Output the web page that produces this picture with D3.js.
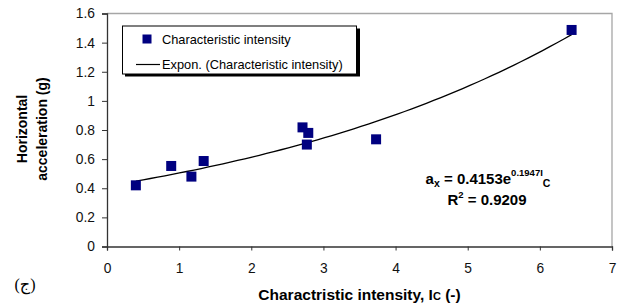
<!DOCTYPE html>
<html>
<head>
<meta charset="utf-8">
<script src="https://cdn.jsdelivr.net/npm/d3@7"></script>
<style>
  body { margin: 0; background: #fff; }
  svg { display: block; font-family: "Liberation Sans", Arial, sans-serif; }
</style>
</head>
<body>
<script>
// measured points
let intensity = [0.40, 0.89, 1.17, 1.34, 2.71, 2.79, 2.77, 3.73, 6.44]
let acceleration = [0.42, 0.553, 0.48, 0.587, 0.818, 0.78, 0.70, 0.736, 1.487]

// exponential trendline from the chart's equation
let fitA = 0.4153
let fitB = 0.1947

let xTicks = [0, 1, 2, 3, 4, 5, 6, 7]
let yTicks = [0, 0.2, 0.4, 0.6, 0.8, 1, 1.2, 1.4, 1.6]

let width = 626
let height = 308
let plotLeft = 107
let plotRight = 612
let plotTop = 13.5
let plotBottom = 246.5

let svg = d3.select('body').append('svg')
    .attr('width', width)
    .attr('height', height)

let xScale = d3.scaleLinear().domain([0, 7]).range([plotLeft, plotRight])
let yScale = d3.scaleLinear().domain([0, 1.6]).range([plotBottom, plotTop])

// plot area frame (top/right grey)
svg.append('path')
    .attr('d', `M${plotLeft},${plotTop}H${plotRight}V${plotBottom}`)
    .attr('fill', 'none')
    .attr('stroke', '#a6a6a6')
    .attr('stroke-width', 1.3)

let xAxis = d3.axisBottom(xScale)
    .tickValues(xTicks)
    .tickSize(4)
    .tickPadding(13)
    .tickFormat(d3.format('d'))

let yAxis = d3.axisLeft(yScale)
    .tickValues(yTicks)
    .tickSize(5)
    .tickPadding(7)
    .tickFormat(d => String(+d.toFixed(1)))

let gx = svg.append('g')
    .attr('transform', `translate(0, ${plotBottom})`)
    .call(xAxis)
let gy = svg.append('g')
    .attr('transform', `translate(${plotLeft}, 0)`)
    .call(yAxis)

for (let g of [gx, gy]) {
    g.select('.domain').attr('stroke', '#333').attr('stroke-width', 1.3)
    g.selectAll('.tick line').attr('stroke', '#333')
    g.selectAll('.tick text')
        .attr('fill', '#111')
        .style('font-size', '13.8px')
        .style('font-family', '"Liberation Sans", Arial, sans-serif')
}

// trendline
let line = d3.line()
    .x(d => xScale(d))
    .y(d => yScale(fitA * Math.exp(fitB * d)))

let xMin = d3.min(intensity)
let xMax = d3.max(intensity)
let steps = d3.range(0, 61).map(i => xMin + (xMax - xMin) * i / 60)

svg.append('path')
    .datum(steps)
    .attr('d', line)
    .attr('fill', 'none')
    .attr('stroke', '#000')
    .attr('stroke-width', 1.3)

// points
let size = 10
svg.selectAll('rect.dot')
    .data(intensity)
    .enter()
    .append('rect')
    .attr('class', 'dot')
    .attr('x', d => xScale(d) - size / 2)
    .attr('y', (d, i) => yScale(acceleration[i]) - size / 2)
    .attr('width', size)
    .attr('height', size)
    .attr('fill', '#000080')

// legend
let legend = svg.append('g')
legend.append('rect')
    .attr('x', 125).attr('y', 28.5)
    .attr('width', 235).attr('height', 48)
    .attr('fill', '#000')
legend.append('rect')
    .attr('x', 122.5).attr('y', 26)
    .attr('width', 234).attr('height', 48)
    .attr('fill', '#fff')
    .attr('stroke', '#000')
    .attr('stroke-width', 1)
legend.append('rect')
    .attr('x', 142.5).attr('y', 34.5)
    .attr('width', 9).attr('height', 9)
    .attr('fill', '#000080')
legend.append('text')
    .attr('x', 162).attr('y', 44)
    .style('font-size', '12.8px')
    .text('Characteristic intensity')
legend.append('line')
    .attr('x1', 136).attr('x2', 160)
    .attr('y1', 64.5).attr('y2', 64.5)
    .attr('stroke', '#000')
    .attr('stroke-width', 1.2)
legend.append('text')
    .attr('x', 162).attr('y', 69)
    .style('font-size', '12.8px')
    .text('Expon. (Characteristic intensity)')

// equation
let eq = svg.append('text')
    .attr('x', 488).attr('y', 184)
    .attr('text-anchor', 'middle')
    .style('font-size', '15px')
    .style('font-weight', 'bold')
eq.append('tspan').text('a')
eq.append('tspan').attr('dy', 3).style('font-size', '10.5px').text('x')
eq.append('tspan').attr('dy', -3).text(' = 0.4153e')
eq.append('tspan').attr('dy', -8).style('font-size', '9.5px').text('0.1947I')
eq.append('tspan').attr('dy', 11).style('font-size', '10.5px').text('C')

let r2 = svg.append('text')
    .attr('x', 487).attr('y', 204.5)
    .attr('text-anchor', 'middle')
    .style('font-size', '15px')
    .style('font-weight', 'bold')
r2.append('tspan').text('R')
r2.append('tspan').attr('dy', -7).style('font-size', '9.5px').text('2')
r2.append('tspan').attr('dy', 7).text(' = 0.9209')

// axis titles
let xt = svg.append('text')
    .attr('x', (plotLeft + plotRight) / 2).attr('y', 300)
    .attr('text-anchor', 'middle')
    .style('font-size', '15.5px')
    .style('font-weight', 'bold')
xt.append('tspan').text('Charactristic intensity, I')
xt.append('tspan').style('font-size', '11px').text('C')
xt.append('tspan').text(' (-)')

let yt = svg.append('text')
    .attr('transform', `translate(0, 129) rotate(-90)`)
    .attr('text-anchor', 'middle')
    .style('font-size', '14px')
    .style('font-weight', 'bold')
yt.append('tspan').attr('x', 0).attr('y', 27).text('Horizontal')
yt.append('tspan').attr('x', 0).attr('y', 47).text('acceleration (g)')

svg.append('text')
    .attr('x', 25).attr('y', 290)
    .attr('text-anchor', 'middle')
    .style('font-size', '16px')
    .style('font-family', '"Liberation Serif", "DejaVu Sans", serif')
    .text('(ج)')
</script>
</body>
</html>
